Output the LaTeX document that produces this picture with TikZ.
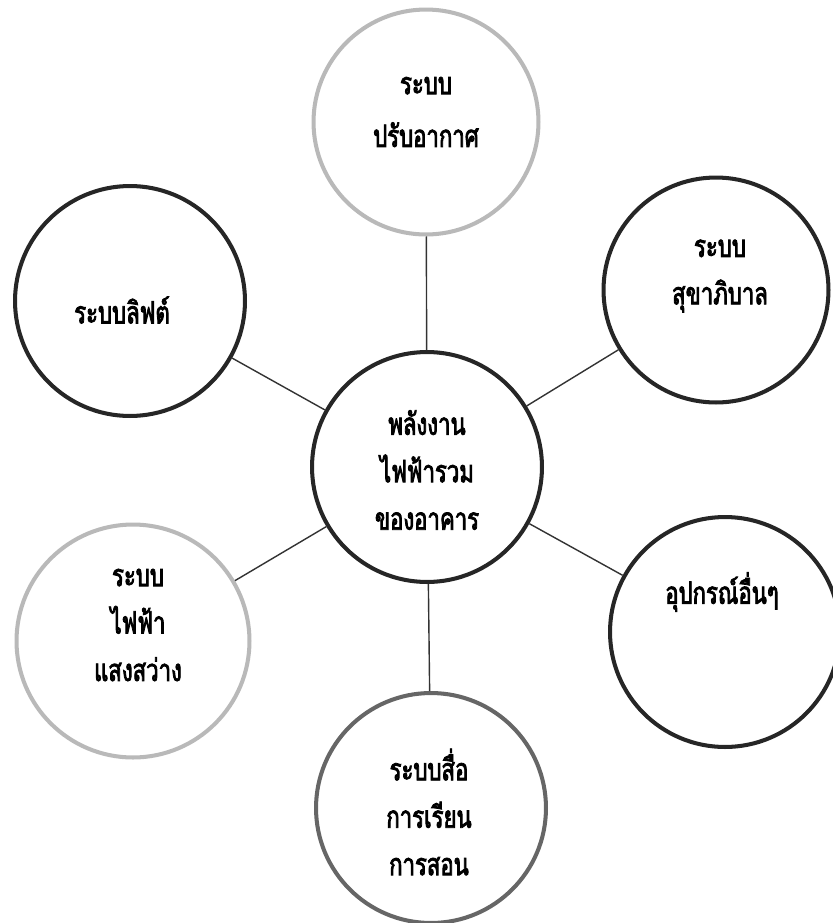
\documentclass[tikz,border=0pt]{standalone}
\usepackage{fontspec}
\newfontfamily\thaifont[Script=Thai, FakeStretch=0.72, FakeBold=2.6]{Loma}
\usetikzlibrary{positioning}

\begin{document}
\begin{tikzpicture}[
    x=0.02cm, y=-0.02cm,
    ring/.style={circle, draw=black!85, line width=2.3pt, minimum size=4.6cm, inner sep=0pt},
    pale/.style={ring, draw=gray!55},
    dim/.style={ring, draw=gray!80!black},
    label text/.style={align=center, inner sep=0pt, font=\thaifont\fontsize{17.5}{27}\selectfont},
    link/.style={line width=0.8pt, black!80}
]
\useasboundingbox (0,0) rectangle (832,923);

% Centre
\node[ring] (total) at (427,467) {};
\node[label text] (totaltext) at (427,470) {พลังงาน\\ไฟฟ้ารวม\\ของอาคาร};

% Air conditioning
\node[pale, minimum size=4.5cm] (aircon) at (426,122) {};
\node[label text] (aircontext) at (426,112) {ระบบ\\[3pt]ปรับอากาศ};

% Sanitation
\node[ring, minimum size=4.5cm] (sanit) at (716,290) {};
\node[label text] (sanittext) at (720,276) {ระบบ\\สุขาภิบาล};

% Lift
\node[ring] (lift) at (130,301) {};
\node[label text] (lifttext) at (122,310) {ระบบลิฟต์};

% Other equipment
\node[ring] (other) at (725,632) {};
\node[label text] (othertext) at (722,592) {อุปกรณ์อื่นๆ};

% Lighting
\node[pale, minimum size=4.66cm] (light) at (133,641) {};
\node[label text] (lighttext) at (138,625) {ระบบ\\ไฟฟ้า\\แสงสว่าง};

% Teaching media
\node[dim] (media) at (431,808) {};
\node[label text] (mediatext) at (429,812) {ระบบสื่อ\\การเรียน\\การสอน};

% Links
\draw[link] (total) -- (aircon);
\draw[link] (total) -- (sanit);
\draw[link] (total) -- (other);
\draw[link] (total) -- (media);
\draw[link] (total) -- (light);
\draw[link] (total) -- (lift);

\end{tikzpicture}
\end{document}
